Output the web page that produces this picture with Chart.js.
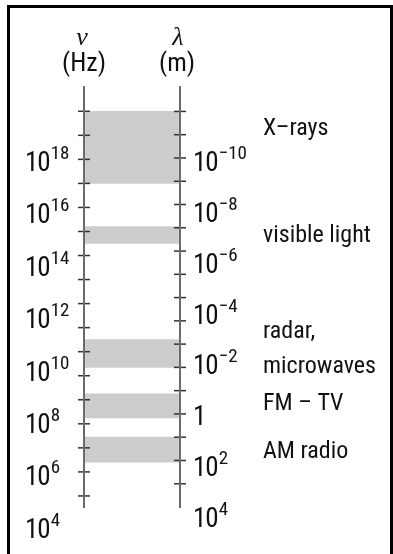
<!DOCTYPE html>
<html>
<head>
<meta charset="utf-8">
<script src="https://cdn.jsdelivr.net/npm/chart.js@4.4.1/dist/chart.umd.min.js"></script>
<style>
  body { margin: 0; background: #fff; }
  #wrap { position: relative; width: 393px; height: 554px; overflow: hidden; }
  #frame { position: absolute; left: 7px; top: 5px; width: 380px; height: 600px; border: 3px solid #000; border-bottom: none; }
  canvas { position: absolute; left: 0; top: 0; }
</style>
</head>
<body>
<div id="wrap">
  <div id="frame"></div>
  <canvas id="spectrum" width="393" height="554"></canvas>
</div>
<script>
// exponents written next to the two axes (10^n)
var nuLabels = [18, 16, 14, 12, 10, 8, 6, 4];
var lambdaLabels = [-10, -8, -6, -4, -2, 0, 2, 4];
// small tick marks, one per decade
var nuTicks = [4, 5, 6, 7, 8, 9, 10, 11, 12, 13, 14, 15, 16, 17, 18, 19, 20];
var lambdaTicks = [-12, -11, -10, -9, -8, -7, -6, -5, -4, -3, -2, -1, 0, 1, 2, 3, 4];

// the grey bands, in log10 of frequency (Hz)
var bandNames = ['X\u2013rays', 'visible light', ['radar,', 'microwaves'], 'FM \u2013 TV', 'AM radio'];
var bandLow = [17, 14.5, 9.35, 7.25, 5.4];
var bandHigh = [20, 15.2, 10.5, 8.25, 6.45];
var bandLabelAt = [19.0, 14.55, 10.56, 7.58, 5.57];

var ink = '#111';
var font = '"Roboto Condensed", "Liberation Sans", sans-serif';

var datasets = bandLow.map(function (lo, i) {
  return {
    type: 'bar',
    label: [].concat(bandNames[i]).join(' '),
    data: [[lo, bandHigh[i]]],
    backgroundColor: '#cccccc',
    borderWidth: 0,
    grouped: false,
    barPercentage: 1,
    categoryPercentage: 1,
    xAxisID: 'x',
    yAxisID: 'yNu'
  };
});

datasets.push({
  type: 'scatter',
  data: nuTicks.map(function (e) { return { x: 0, y: e }; }),
  xAxisID: 'xl',
  yAxisID: 'yNu',
  pointStyle: 'line',
  pointRadius: 6,
  borderWidth: 1.5,
  borderColor: '#333',
  clip: false,
  order: -1
});
datasets.push({
  type: 'scatter',
  data: lambdaTicks.map(function (e) { return { x: 1, y: e }; }),
  xAxisID: 'xl',
  yAxisID: 'yLam',
  pointStyle: 'line',
  pointRadius: 6,
  borderWidth: 1.5,
  borderColor: '#333',
  clip: false,
  order: -1
});

// writes 10^n with a raised exponent
function drawPower(ctx, x, y, e) {
  ctx.textAlign = 'left';
  ctx.textBaseline = 'alphabetic';
  ctx.font = '27px ' + font;
  ctx.letterSpacing = '-1px';
  var base = e === 0 ? '1' : '10';
  ctx.fillText(base, x, y);
  var w = ctx.measureText(base).width;
  ctx.letterSpacing = '0px';
  if (e === 0) return;
  ctx.font = '19px ' + font;
  ctx.fillText(e < 0 ? '\u2212' + (-e) : String(e), x + w + 1, y - 12);
}

var textPlugin = {
  id: 'spectrumText',
  afterDraw: function (chart) {
    var ctx = chart.ctx;
    var area = chart.chartArea;
    var s = chart.scales;
    ctx.save();
    ctx.fillStyle = ink;

    nuLabels.forEach(function (e) {
      drawPower(ctx, area.left - 59, s.nuLab.getPixelForValue(e), e);
    });
    lambdaLabels.forEach(function (e) {
      drawPower(ctx, area.right + 13, s.lamLab.getPixelForValue(e), e);
    });

    // axis headings
    ctx.textAlign = 'center';
    ctx.textBaseline = 'alphabetic';
    ctx.font = 'italic 26px "Liberation Serif", serif';
    ctx.fillText('\u03BD', area.left - 2, area.top - 42);
    ctx.fillText('\u03BB', area.right - 2, area.top - 42);
    ctx.font = '26px ' + font;
    ctx.fillText('(Hz)', area.left, area.top - 16);
    ctx.fillText('(m)', area.right - 3, area.top - 16);

    // band names
    ctx.textAlign = 'left';
    ctx.font = '24px ' + font;
    bandNames.forEach(function (name, i) {
      var y = s.yNu.getPixelForValue(bandLabelAt[i]);
      [].concat(name).forEach(function (line, j) {
        ctx.fillText(line, area.right + 83, y + j * 35);
      });
    });
    ctx.restore();
  }
};

new Chart(document.getElementById('spectrum').getContext('2d'), {
  type: 'bar',
  data: {
    labels: [''],
    datasets: datasets
  },
  options: {
    responsive: false,
    animation: false,
    events: [],
    layout: {
      padding: { left: 84, right: 213, top: 87, bottom: 47 }
    },
    plugins: {
      legend: { display: false },
      tooltip: { enabled: false }
    },
    scales: {
      x: { type: 'category', display: false, offset: true },
      xl: { type: 'linear', display: false, min: 0, max: 1, offset: false, grid: { offset: false } },
      yNu: {
        type: 'linear',
        position: 'left',
        min: 3.54,
        max: 21.01,
        grid: { display: false, drawTicks: false },
        ticks: { display: false },
        border: { display: true, color: '#6b6b6b', width: 2, z: 1 }
      },
      yLam: {
        type: 'linear',
        position: 'right',
        reverse: true,
        min: -13.05,
        max: 5.0,
        grid: { display: false, drawTicks: false },
        ticks: { display: false },
        border: { display: true, color: '#6b6b6b', width: 2, z: 1 }
      },
      // label positions drift a little from the tick marks in the original
      nuLab: { type: 'linear', display: false, position: 'left', min: 5.17, max: 21.21 },
      lamLab: { type: 'linear', display: false, position: 'right', reverse: true, min: -13.33, max: 3.23 }
    }
  },
  plugins: [textPlugin]
});
</script>
</body>
</html>
